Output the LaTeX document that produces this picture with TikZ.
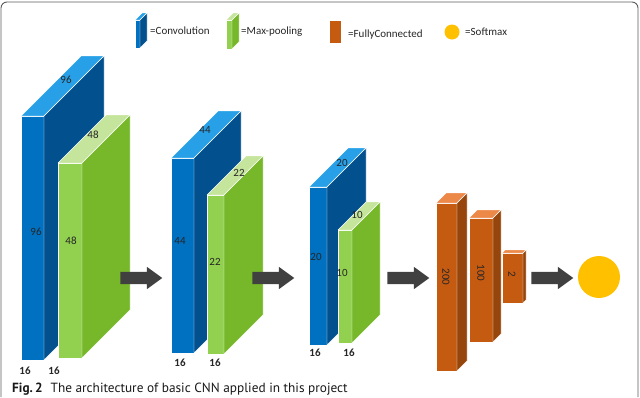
\documentclass[tikz,border=0pt]{standalone}
\usepackage{fontspec}
\setmainfont{Carlito}
\newfontfamily\capfont{PT Sans}
\usetikzlibrary{shapes.arrows}
\definecolor{convfront}{RGB}{0,112,192}
\definecolor{convside}{RGB}{2,80,142}
\definecolor{convtop}{RGB}{40,160,232}
\definecolor{poolfront}{RGB}{146,208,80}
\definecolor{poolside}{RGB}{118,184,42}
\definecolor{pooltop}{RGB}{196,229,155}
\definecolor{fcfront}{RGB}{197,90,17}
\definecolor{fcside}{RGB}{150,70,12}
\definecolor{fctop}{RGB}{236,136,72}
\definecolor{softy}{RGB}{255,192,0}
\definecolor{arrowgray}{RGB}{64,64,64}
\definecolor{framegray}{RGB}{90,90,90}

\begin{document}
\begin{tikzpicture}[x=1pt, y=-1pt, font=\fontsize{11}{13}\selectfont,
    face/.style={draw=white, line width=0.4pt, line join=round},
    lab/.style={inner sep=0pt, text=black!85},
    num/.style={lab, font=\fontsize{11}{13}\selectfont\bfseries},
    fwd/.style={single arrow, fill=arrowgray, minimum height=42pt, minimum width=22pt,
      single arrow head extend=5pt, single arrow tip angle=72, inner xsep=0pt, inner ysep=6pt}]
  \useasboundingbox (0,0) rectangle (640,397);
  \draw[framegray, line width=0.9pt, rounded corners=6pt] (1,397) -- (1,2) -- (638,2) -- (638,397);
  % cuboids: name/left/top/width/bottom/depth/kind
  \foreach \nm/\bx/\by/\bw/\bb/\bd/\kind in {cL/135/20/5/48/7/conv, pL/226/20/6/49/7/pool,
      cA/21/116/23/360/60/conv, pA/58/163/24/358/48/pool,
      cB/171/158/23/353/47/conv, pB/207/195/17/354/39/pool,
      cC/309/187/18/345/39/conv, pC/338/230/14/343/28/pool,
      fA/436/203/21/371/10/fc, fB/469/218/24/342/8/fc, fC/502/253/21/303/3/fc} {
    \filldraw[face, fill=\kind front] (\bx,\by) rectangle (\bx+\bw,\bb);
    \filldraw[face, fill=\kind top] (\bx,\by) -- (\bx+\bw,\by) -- (\bx+\bw+\bd,\by-\bd) -- (\bx+\bd,\by-\bd) -- cycle;
    \filldraw[face, fill=\kind side] (\bx+\bw,\by) -- (\bx+\bw+\bd,\by-\bd) -- (\bx+\bw+\bd,\bb-\bd) -- (\bx+\bw,\bb) -- cycle;
  }
  % legend
  \filldraw[face, fill=fcfront] (329,20) rectangle (341,43);
  \node[circle, fill=softy, minimum size=15pt, inner sep=0pt] (softL) at (452,32) {};
  \node[lab, anchor=west] (legConv) at (150,31) {=Convolution};
  \node[lab, anchor=west] (legPool) at (241,32) {=Max-pooling};
  \node[lab, anchor=west] (legFc) at (348,35) {=FullyConnected};
  \node[lab, anchor=west] (legSoft) at (465,32) {=Softmax};
  % sizes on the faces
  \foreach \nm/\px/\py/\txt in {tA/66/80/96, tB/93/135/48, tC/205/130/44, tD/239/173/22,
      tE/342/163/20, tF/357/215/10, sA/36/232/96, sB/71/241/48, sC/180/241/44,
      sD/215/262/22, sE/316/257/20, sF/342/273/10}
    \node[lab] (\nm) at (\px,\py) {\txt};
  \foreach \nm/\px/\py in {dA/25/371, dB/54/371, dC/180/363, dD/215/363, dE/315/353, dF/349/353}
    \node[num] (\nm) at (\px,\py) {16};
  \foreach \nm/\px/\py/\txt in {uA/446/277/200, uB/481/273/100, uC/512/274/2}
    \node[lab, rotate=-90] (\nm) at (\px,\py) {\txt};
  % flow
  \foreach \nm/\ax in {aA/137, aB/269, aC/404, aD/548}
    \node[fwd] (\nm) at (\ax,278) {};
  \node[circle, fill=softy, minimum size=42pt, inner sep=0pt] (soft) at (599,277) {};
  \node[anchor=west, inner sep=0pt, text=black!90, font=\capfont\fontsize{13.3}{15}\selectfont] (cap) at (12,389)
    {\textbf{Fig.\,2}\hspace{0.6em}The architecture of basic CNN applied in this project};
\end{tikzpicture}
\end{document}
